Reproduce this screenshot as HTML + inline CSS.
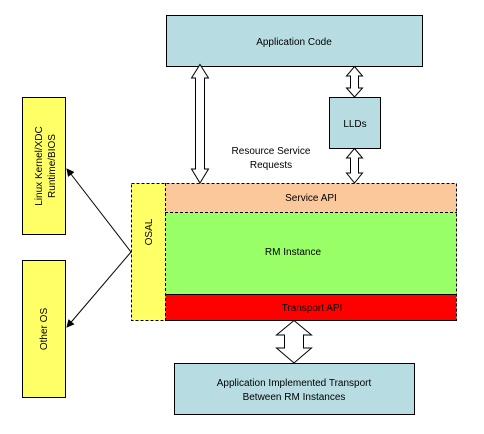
<!DOCTYPE html><html><head><style>body{margin:0;background:#fff}text{font-family:"Liberation Sans",Arial,sans-serif;font-size:10px;fill:#000}</style></head><body>
<svg width="484" height="429" xmlns="http://www.w3.org/2000/svg">
<defs><marker id="a" markerWidth="8" markerHeight="8" refX="7" refY="4" orient="auto" markerUnits="userSpaceOnUse"><path d="M0,0 L8,4 L0,8z" fill="#000"/></marker></defs>
<rect x="166.5" y="15.5" width="256" height="51" fill="#b7dde2" stroke="#000"/>
<text x="294" y="45" text-anchor="middle">Application  Code</text>
<path d="M200,64.5 L208.5,78 L204.5,78 L204.5,169 L208.5,169 L200,183 L191.5,169 L195.5,169 L195.5,78 L191.5,78 Z" fill="#fff" stroke="#000"/>
<path d="M354.5,66.5 L362.5,76 L358.5,76 L358.5,88 L362.5,88 L354.5,97 L346.5,88 L350.5,88 L350.5,76 L346.5,76 Z" fill="#fff" stroke="#000"/>
<rect x="329.5" y="97.5" width="51" height="51" fill="#b7dde2" stroke="#000"/>
<text x="355" y="127" text-anchor="middle">LLDs</text>
<path d="M354.5,148.5 L362.5,158 L358.5,158 L358.5,173 L362.5,173 L354.5,183 L346.5,173 L350.5,173 L350.5,158 L346.5,158 Z" fill="#fff" stroke="#000"/>
<text x="271" y="154" text-anchor="middle">Resource  Service</text>
<text x="271" y="168" text-anchor="middle">Requests</text>
<rect x="22.5" y="97.5" width="43" height="137" fill="#ffff66" stroke="#000"/>
<text transform="translate(42,166) rotate(-90)" text-anchor="middle">Linux Kernel/XDC</text>
<text transform="translate(55,166) rotate(-90)" text-anchor="middle">Runtime/BIOS</text>
<rect x="22.5" y="260.5" width="43" height="137" fill="#ffff66" stroke="#000"/>
<text transform="translate(47,329) rotate(-90)" text-anchor="middle">Other OS</text>
<rect x="131.5" y="183.5" width="34" height="137" fill="#ffff66"/>
<rect x="165.5" y="183.5" width="291" height="29" fill="#fbc89c"/>
<rect x="165.5" y="212.5" width="291" height="82" fill="#99ff66"/>
<rect x="165.5" y="294.5" width="291" height="26" fill="#ff0000"/>
<rect x="131.5" y="183.5" width="325" height="137" fill="none" stroke="#000" stroke-dasharray="3,2"/>
<line x1="165.5" y1="183" x2="165.5" y2="320" stroke="#000" stroke-dasharray="3,2"/>
<line x1="165" y1="212.5" x2="457" y2="212.5" stroke="#000" stroke-dasharray="3,2"/>
<line x1="165" y1="294.5" x2="457" y2="294.5" stroke="#000"/>
<line x1="165" y1="320.5" x2="457" y2="320.5" stroke="#000"/>
<text transform="translate(152,232) rotate(-90)" text-anchor="middle">OSAL</text>
<text x="311" y="201" text-anchor="middle">Service API</text>
<text x="293" y="255" text-anchor="middle">RM  Instance</text>
<text x="312" y="311" text-anchor="middle">Transport API</text>
<line x1="131" y1="252" x2="67" y2="169" stroke="#000" marker-end="url(#a)"/>
<line x1="131" y1="252" x2="67" y2="327" stroke="#000" marker-end="url(#a)"/>
<path d="M294,320.5 L311.5,335 L303.5,335 L303.5,348 L311.5,348 L294,363 L276.5,348 L284.5,348 L284.5,335 L276.5,335 Z" fill="#fff" stroke="#000"/>
<rect x="174.5" y="363.5" width="240" height="51" fill="#b7dde2" stroke="#000"/>
<text x="294" y="386" text-anchor="middle">Application  Implemented  Transport</text>
<text x="294" y="400" text-anchor="middle">Between  RM  Instances</text>
</svg></body></html>
